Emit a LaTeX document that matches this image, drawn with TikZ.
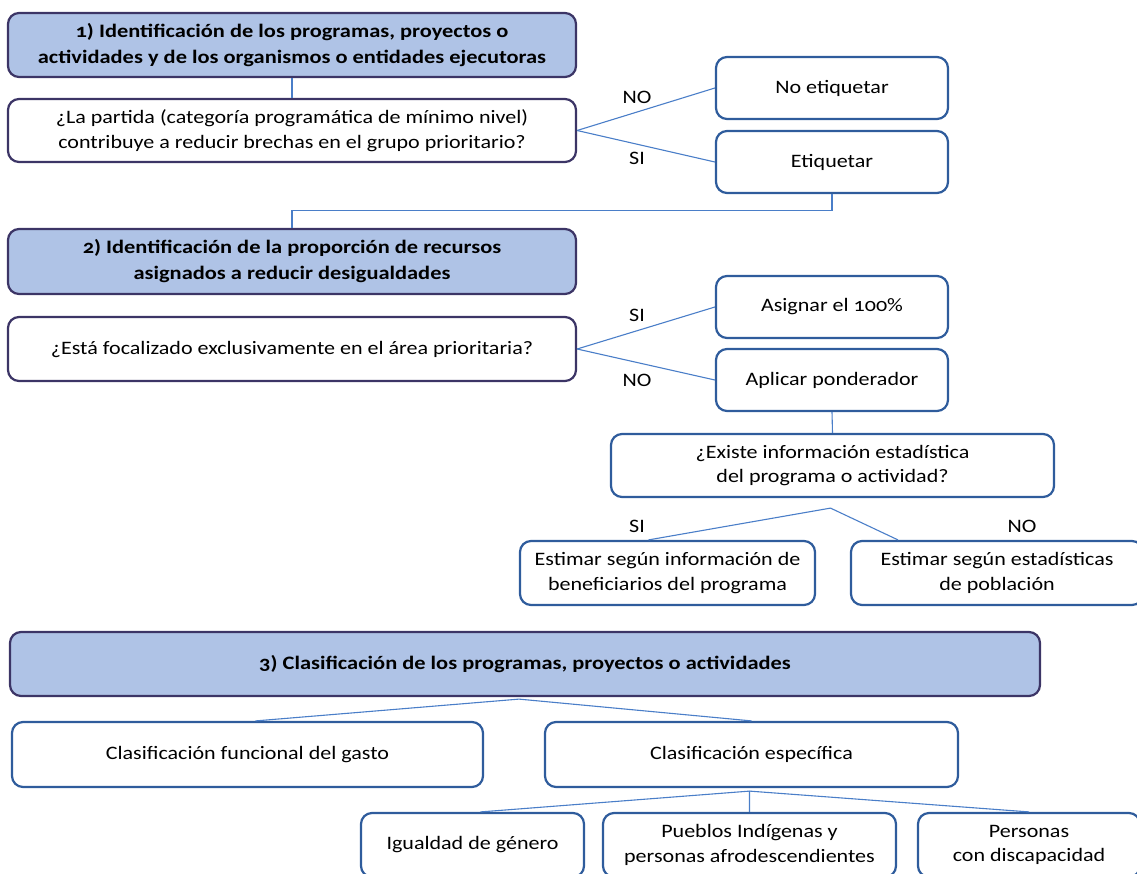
\documentclass[tikz,border=0pt]{standalone}
\usepackage{fontspec}
\setmainfont[Numbers=OldStyle,FakeStretch=1.16,BoldFeatures={FakeStretch=1.18}]{Carlito}
\usetikzlibrary{calc}
\definecolor{hdrfill}{HTML}{AFC3E6}
\definecolor{darkedge}{HTML}{3C3566}
\definecolor{blueedge}{HTML}{2F5C9C}
\definecolor{linkc}{HTML}{4A7EC8}
\tikzset{
  base/.style={rectangle, rounded corners=11pt, line width=2.2pt, inner sep=0pt, align=center,
    font=\fontsize{19}{24.5}\selectfont, text=black},
  hdr/.style={base, draw=darkedge, fill=hdrfill, font=\fontsize{19}{26}\selectfont\bfseries},
  qbox/.style={base, draw=darkedge, fill=white},
  bbox/.style={base, draw=blueedge, fill=white},
  link/.style={draw=linkc, line width=1.1pt},
  lab/.style={font=\fontsize{19}{24}\selectfont, inner sep=0pt},
}
\begin{document}
\begin{tikzpicture}[x=1pt,y=-1pt]
\useasboundingbox (0,0) rectangle (1137,873);
\clip (0,0) rectangle (1137,873);
% section 1
\node[hdr, minimum width=568, minimum height=64] (h1) at (292,45) {1) Identificación de los programas, proyectos o\\actividades y de los organismos o entidades ejecutoras};
\node[qbox, minimum width=568, minimum height=63] (q1) at (292,130.5) {¿La partida (categoría programática de mínimo nivel)\\contribuye a reducir brechas en el grupo prioritario?};
\node[bbox, minimum width=232, minimum height=62] (noet) at (832,88) {No etiquetar};
\node[bbox, minimum width=232, minimum height=62] (et) at (832,162) {Etiquetar};
\draw[link] (h1.south) -- (q1.north);
\draw[link] (q1.east) -- (noet.west);
\draw[link] (q1.east) -- (et.west);
\node[lab] (no1) at (637,97) {NO};
\node[lab] (si1) at (637,158) {SI};
% section 2
\node[hdr, minimum width=568, minimum height=65] (h2) at (292,261.5) {2) Identificación de la proporción de recursos\\asignados a reducir desigualdades};
\draw[link] (et.south) -- ++(0,16) -| (h2.north);
\node[qbox, minimum width=568, minimum height=64] (q2) at (292,349) {¿Está focalizado exclusivamente en el área prioritaria?};
\node[bbox, minimum width=232, minimum height=62] (asig) at (832,307) {Asignar el 100\%};
\node[bbox, minimum width=232, minimum height=62] (apl) at (832,380) {Aplicar ponderador};
\draw[link] (q2.east) -- (asig.west);
\draw[link] (q2.east) -- (apl.west);
\node[lab] (si2) at (637,315) {SI};
\node[lab] (no2) at (637,380) {NO};
\node[bbox, minimum width=443, minimum height=63] (q3) at (832.5,465.5) {¿Existe información estadística\\del programa o actividad?};
\draw[link] (apl.south) -- (q3.north);
\node[bbox, minimum width=295, minimum height=64] (e1) at (667.5,573) {Estimar según información de\\beneficiarios del programa};
\node[bbox, minimum width=292, minimum height=64] (e2) at (997,573) {Estimar según estadísticas\\de población};
\coordinate (q3b) at ($(q3.south)+(-2,10)$);
\draw[link] ([xshift=-19pt]e1.north) -- (q3b) -- ([xshift=-99pt]e2.north);
\node[lab] (si3) at (637,526) {SI};
\node[lab] (no3) at (1022,526) {NO};
% section 3
\node[hdr, minimum width=1030, minimum height=64] (h3) at (525,664) {3) Clasificación de los programas, proyectos o actividades};
\node[bbox, minimum width=471, minimum height=65] (cf) at (247.5,754.5) {Clasificación funcional del gasto};
\node[bbox, minimum width=413, minimum height=65] (ce) at (751.5,754.5) {Clasificación específica};
\coordinate (h3b) at ($(h3.south)+(-6,2)$);
\draw[link] ([xshift=8pt]cf.north) -- (h3b) -- (ce.north);
\node[bbox, minimum width=223, minimum height=64] (ig) at (472.5,845) {Igualdad de género};
\node[bbox, minimum width=293, minimum height=64] (pi) at (749.5,845) {Pueblos Indígenas y\\personas afrodescendientes};
\node[bbox, minimum width=222, minimum height=64] (pd) at (1029,845) {Personas\\con discapacidad};
\coordinate (ceb) at ($(ce.south)+(-2,3)$);
\draw[link] ([xshift=8pt]ig.north) -- (ceb) -- (pi.north);
\draw[link] (ceb) -- (pd.north);
\end{tikzpicture}
\end{document}
